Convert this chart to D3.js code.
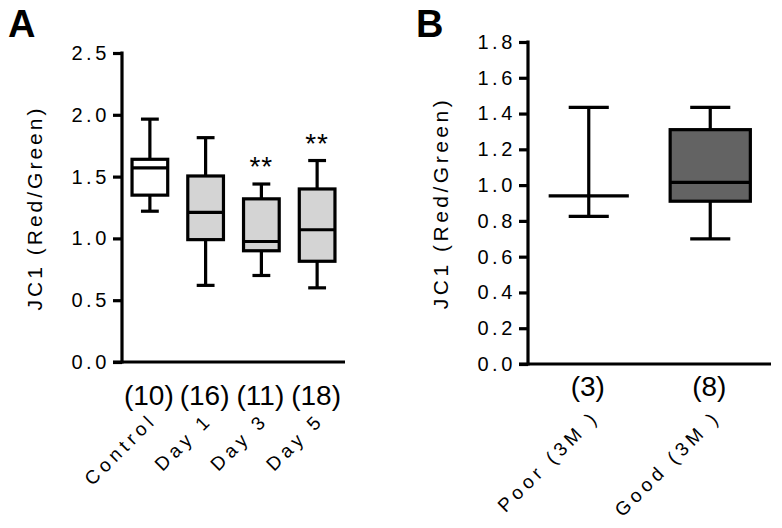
<!DOCTYPE html>
<html>
<head>
<meta charset="utf-8">
<script src="https://cdn.jsdelivr.net/npm/d3@7/dist/d3.min.js"></script>
<style>
  html, body { margin: 0; padding: 0; background: #fff; }
  svg { display: block; font-family: "Liberation Sans", Arial, sans-serif; }
</style>
</head>
<body>
<svg id="chart" width="782" height="528"></svg>
<script>
// ---------- Data: Panel A ----------
const catsA  = ["Control", "Day 1", "Day 3", "Day 5"];
const countsA = ["(10)", "(16)", "(11)", "(18)"];
const minA   = [1.22, 0.62, 0.70, 0.60];
const q1A    = [1.35, 0.99, 0.90, 0.815];
const medA   = [1.57, 1.21, 0.975, 1.07];
const q3A    = [1.64, 1.505, 1.32, 1.40];
const maxA   = [1.965, 1.815, 1.44, 1.63];
const sigA   = ["", "", "**", "**"];
const ticksA = [0.0, 0.5, 1.0, 1.5, 2.0, 2.5];

// ---------- Data: Panel B ----------
const catsB  = ["Poor (3M )", "Good (3M )"];
const countsB = ["(3)", "(8)"];
const minB   = [0.825, 0.70];
const q1B    = [0.94, 0.91];
const medB   = [0.94, 1.015];
const q3B    = [0.94, 1.31];
const maxB   = [1.435, 1.435];
const ticksB = [0.0, 0.2, 0.4, 0.6, 0.8, 1.0, 1.2, 1.4, 1.6, 1.8];

const yTitle = "JC1 (Red/Green)";

const svg = d3.select("#chart");
const SW = 3.2;

function panel(cfg) {
  const g = svg.append("g");
  const x = d3.scaleBand().domain(cfg.cats).range([cfg.x0, cfg.x1]).padding(0);
  const y = d3.scaleLinear().domain([0, cfg.ymax]).range([cfg.y0, cfg.y1]);

  const data = cfg.cats.map((c, i) => ({
    cat: c, n: cfg.counts[i], min: cfg.min[i], q1: cfg.q1[i], med: cfg.med[i],
    q3: cfg.q3[i], max: cfg.max[i], sig: cfg.sig ? cfg.sig[i] : "", fill: cfg.fills[i]
  }));

  // Y axis
  const yAxis = d3.axisLeft(y).tickValues(cfg.ticks).tickFormat(d3.format(".1f"))
    .tickSize(9).tickPadding(3);
  const ya = g.append("g").attr("transform", `translate(${cfg.x0},0)`).call(yAxis);
  ya.attr("font-family", null).attr("font-size", null);
  ya.select(".domain").attr("stroke", "#000").attr("stroke-width", SW)
    .attr("d", `M0,${cfg.y0 + SW/2}V${cfg.y1 - SW/2}`);
  ya.selectAll(".tick line").attr("stroke", "#000").attr("stroke-width", SW);
  ya.selectAll(".tick text").attr("font-size", 20).attr("fill", "#000")
    .attr("letter-spacing", "3.6px");

  // X axis line
  g.append("line").attr("x1", cfg.x0 - 9).attr("x2", cfg.x1)
    .attr("y1", cfg.y0).attr("y2", cfg.y0).attr("stroke", "#000").attr("stroke-width", SW);

  const bw = x.bandwidth() * cfg.boxFrac;
  const cw = bw * 0.5;
  const cx = d => x(d.cat) + x.bandwidth() / 2;

  const boxes = g.selectAll(".box").data(data).enter().append("g");
  // whiskers
  boxes.append("line").attr("x1", cx).attr("x2", cx)
    .attr("y1", d => y(d.q3)).attr("y2", d => y(d.max))
    .attr("stroke", "#000").attr("stroke-width", SW);
  boxes.append("line").attr("x1", cx).attr("x2", cx)
    .attr("y1", d => y(d.q1)).attr("y2", d => y(d.min))
    .attr("stroke", "#000").attr("stroke-width", SW);
  // caps
  boxes.append("line").attr("x1", d => cx(d) - cw/2).attr("x2", d => cx(d) + cw/2)
    .attr("y1", d => y(d.max)).attr("y2", d => y(d.max))
    .attr("stroke", "#000").attr("stroke-width", SW);
  boxes.append("line").attr("x1", d => cx(d) - cw/2).attr("x2", d => cx(d) + cw/2)
    .attr("y1", d => y(d.min)).attr("y2", d => y(d.min))
    .attr("stroke", "#000").attr("stroke-width", SW);
  // box
  boxes.append("rect").attr("x", d => cx(d) - bw/2).attr("width", bw)
    .attr("y", d => y(d.q3)).attr("height", d => y(d.q1) - y(d.q3))
    .attr("fill", d => d.fill).attr("stroke", "#000").attr("stroke-width", SW);
  // median
  boxes.append("line").attr("x1", d => cx(d) - bw/2).attr("x2", d => cx(d) + bw/2)
    .attr("y1", d => y(d.med)).attr("y2", d => y(d.med))
    .attr("stroke", "#000").attr("stroke-width", SW);
  // significance
  boxes.append("text").attr("x", cx).attr("y", d => y(d.max) - 8)
    .attr("text-anchor", "middle").attr("font-size", 28).attr("letter-spacing", "1px")
    .text(d => d.sig);

  // counts
  g.selectAll(".cnt").data(data).enter().append("text")
    .attr("x", d => cx(d) - 1).attr("y", cfg.y0 + cfg.countDy)
    .attr("text-anchor", "middle").attr("font-size", 28).text(d => d.n);

  // rotated category labels
  g.selectAll(".lab").data(data).enter().append("text")
    .attr("transform", d => `translate(${cx(d) + cfg.labDx},${cfg.y0 + cfg.labDy}) rotate(-45)`)
    .attr("text-anchor", "end").attr("font-size", 19).attr("letter-spacing", "4.5px")
    .text(d => d.cat);

  // y title
  g.append("text")
    .attr("transform", `translate(${cfg.titleX},${cfg.titleY}) rotate(-90)`)
    .attr("text-anchor", "middle").attr("font-size", 21).attr("letter-spacing", cfg.titleLs)
    .text(yTitle);

  // panel letter
  g.append("text").attr("x", cfg.letterX).attr("y", 37)
    .attr("font-size", 38).attr("font-weight", "bold").text(cfg.letter);
}

panel({
  cats: catsA, counts: countsA, min: minA, q1: q1A, med: medA, q3: q3A, max: maxA, sig: sigA,
  fills: ["#ffffff", "#d4d4d4", "#d4d4d4", "#d4d4d4"],
  ticks: ticksA, ymax: 2.5, x0: 122, x1: 345, y0: 362, y1: 53, boxFrac: 0.64,
  countDy: 43, labDx: 8, labDy: 59, titleX: 42, titleY: 208, titleLs: "3px",
  letter: "A", letterX: 8
});

panel({
  cats: catsB, counts: countsB, min: minB, q1: q1B, med: medB, q3: q3B, max: maxB, sig: null,
  fills: ["#636363", "#636363"],
  ticks: ticksB, ymax: 1.8, x0: 528, x1: 771, y0: 364, y1: 42, boxFrac: 0.66,
  countDy: 32, labDx: 12, labDy: 54, titleX: 448, titleY: 203, titleLs: "3.5px",
  letter: "B", letterX: 416
});
</script>
</body>
</html>
